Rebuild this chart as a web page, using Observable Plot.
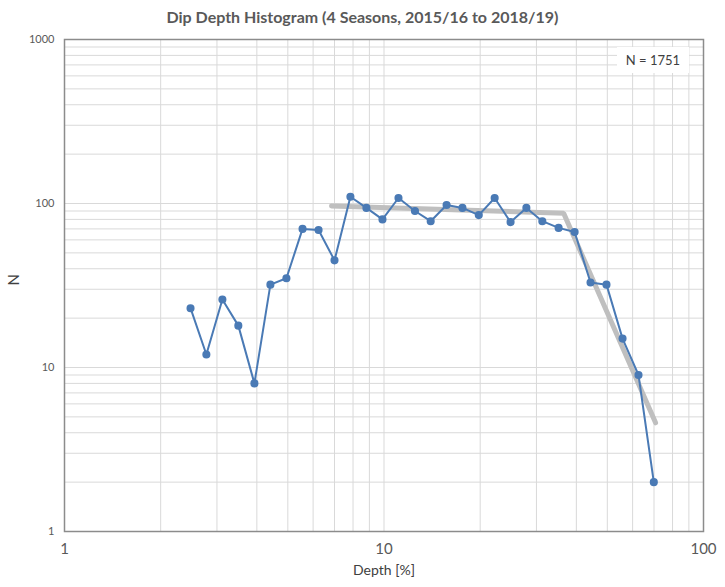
<!DOCTYPE html>
<html>
<head>
<meta charset="utf-8">
<script src="https://cdn.jsdelivr.net/npm/d3@7"></script>
<script src="https://cdn.jsdelivr.net/npm/@observablehq/plot@0.6"></script>
<style>
  body { margin: 0; background: #fff; font-family: Lato, "Open Sans", sans-serif; }
  #wrap { position: relative; width: 725px; height: 587px; }
  #title { height: 30px; box-sizing: border-box; padding-top: 8px; text-align: center;
           font-size: 16px; line-height: 18px; font-weight: bold; color: #595959; }
  #nbox { position: absolute; left: 617px; top: 47px; width: 72px; height: 26px;
          background: #fff; text-align: center; font-size: 13px; line-height: 26px; color: #404040; }
</style>
</head>
<body>
<div id="wrap">
  <div id="title">Dip Depth Histogram (4 Seasons, 2015/16 to 2018/19)</div>
  <div id="chart"></div>
  <div id="nbox">N = 1751</div>
</div>
<script>
const depth = [2.48, 2.78, 3.12, 3.50, 3.93, 4.41, 4.95, 5.56, 6.24, 7.00, 7.85, 8.81, 9.89, 11.1, 12.5, 14.0, 15.7, 17.6, 19.8, 22.2, 24.9, 27.9, 31.3, 35.2, 39.5, 44.3, 49.7, 55.8, 62.6, 69.9];
const count = [23, 12, 26, 18, 8, 32, 35, 70, 69, 45, 110, 94, 80, 108, 90, 78, 98, 94, 85, 108, 77, 94, 78, 71, 67, 33, 32, 15, 9, 2];
const fitDepth = [6.85, 36.5, 70.8];
const fitCount = [96.6, 87.3, 4.6];
const xTicks = [1, 10, 100];
const yTicks = [1, 10, 100, 1000];
const xLabel = "Depth [%]";
const yLabel = "N";

const data = depth.map((d, i) => ({depth: d, count: count[i]}));
const fit = fitDepth.map((d, i) => ({depth: d, count: fitCount[i]}));
const mult = [1, 2, 3, 4, 5, 6, 7, 8, 9];
const xGrid = [1, 10].flatMap(b => mult.map(m => m * b)).concat([100]);
const yGrid = [1, 10, 100].flatMap(b => mult.map(m => m * b)).concat([1000]);

const blue = "#4a7ab5";
const chart = Plot.plot({
  width: 725,
  height: 557,
  marginLeft: 64,
  marginRight: 22,
  marginTop: 9,
  marginBottom: 56,
  style: {fontFamily: "Lato, 'Open Sans', sans-serif", background: "#fff"},
  x: {type: "log", domain: [1, 100]},
  y: {type: "log", domain: [1, 1000]},
  marks: [
    Plot.gridX(xGrid, {stroke: "#d9d9d9", strokeOpacity: 1, strokeWidth: 1}),
    Plot.gridY(yGrid, {stroke: "#d9d9d9", strokeOpacity: 1, strokeWidth: 1}),
    Plot.frame({stroke: "#8c8c8c", strokeWidth: 1.5}),
    Plot.axisX(xTicks, {tickSize: 0, tickPadding: 12, fontSize: 15, fill: "#595959", tickFormat: d => String(d), label: null}),
    Plot.axisY(yTicks, {tickSize: 0, tickPadding: 10, fontSize: 11, fill: "#595959", tickFormat: d => String(d), label: null}),
    Plot.text([xLabel], {frameAnchor: "bottom", dy: 43, text: d => d, fontSize: 14, fill: "#404040"}),
    Plot.text([yLabel], {frameAnchor: "left", dx: -50, rotate: -90, text: d => d, fontSize: 15, fill: "#404040"}),
    Plot.line(fit, {x: "depth", y: "count", stroke: "#bfbfbf", strokeWidth: 5, strokeLinejoin: "miter"}),
    Plot.line(data, {x: "depth", y: "count", stroke: blue, strokeWidth: 2}),
    Plot.dot(data, {x: "depth", y: "count", r: 3.3, fill: blue, stroke: blue})
  ]
});
document.getElementById("chart").appendChild(chart);
</script>
</body>
</html>
